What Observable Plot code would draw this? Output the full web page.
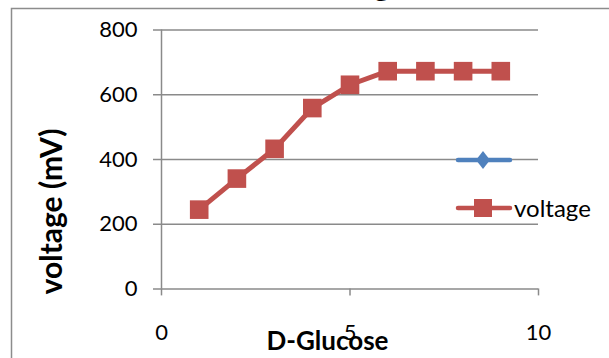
<!DOCTYPE html>
<html>
<head>
<meta charset="utf-8">
<script src="https://cdn.jsdelivr.net/npm/d3@7"></script>
<script src="https://cdn.jsdelivr.net/npm/@observablehq/plot@0.6"></script>
<style>
  html, body { margin: 0; padding: 0; background: #fff; }
  #wrap { position: relative; width: 609px; height: 358px; overflow: hidden; font-family: Lato, "Open Sans", sans-serif; }
  #overlay { position: absolute; left: 0; top: 0; pointer-events: none; }
</style>
</head>
<body>
<div id="wrap"></div>
<script>
// Data
const glucose = [1, 2, 3, 4, 5, 6, 7, 8, 9];
const voltage = [245, 341, 433, 559, 631, 673, 673, 673, 673];
const xTicks = [0, 5, 10];
const yTicks = [0, 200, 400, 600, 800];
const seriesName = "voltage";
const chartTitle = "voltage";
const xTitle = "D-Glucose";
const yTitle = "voltage (mV)";

const rows = glucose.map((g, i) => ({glucose: g, voltage: voltage[i]}));

const red = "#C0504D";
const blue = "#4F81BD";
const grid = "#8a8a8a";
const font = "Lato, 'Open Sans', sans-serif";

const chart = Plot.plot({
  width: 609,
  height: 358,
  marginLeft: 161,
  marginRight: 71,
  marginTop: 29.6,
  marginBottom: 69.6,
  style: {fontFamily: font, background: "transparent", overflow: "visible"},
  x: {domain: [0, 10]},
  y: {domain: [0, 800]},
  marks: [
    Plot.ruleY(yTicks, {x1: 0, x2: 10, insetLeft: -8, stroke: grid, strokeWidth: 1.5}),
    Plot.ruleX([0], {y1: 0, y2: 800, stroke: grid, strokeWidth: 1.5}),
    Plot.axisY({ticks: yTicks, tickSize: 0, tickPadding: 24, fontSize: 22, label: null, fill: "#000"}),
    Plot.axisX({ticks: xTicks, tickSize: 7, tickPadding: 28, fontSize: 22, label: null, stroke: grid, strokeWidth: 1.5, fill: "#000"}),
    Plot.line(rows, {x: "glucose", y: "voltage", stroke: red, strokeWidth: 5}),
    Plot.dot(rows, {x: "glucose", y: "voltage", symbol: "square", r: 10.5, fill: red, stroke: null}),
    Plot.text([yTitle], {frameAnchor: "left", textAnchor: "middle", lineAnchor: "middle", dx: -109, dy: 52, rotate: -90, fontSize: 30, fontWeight: "bold", fill: "#000"}),
    Plot.text([xTitle], {frameAnchor: "bottom", textAnchor: "middle", lineAnchor: "middle", dx: -22.5, dy: 53, fontSize: 26, fontWeight: "bold", fill: "#000"})
  ]
});
document.getElementById("wrap").appendChild(chart);

// Overlay: chart-area border, cut-off title, legend
const ov = d3.select("#wrap").append("svg")
  .attr("id", "overlay").attr("width", 609).attr("height", 358)
  .style("font-family", font);

ov.append("path").attr("d", "M11.5,358 V8.5 H609").attr("fill", "none").attr("stroke", "#8c8c8c").attr("stroke-width", 1.5);
ov.append("text").attr("x", 356).attr("y", -4).attr("text-anchor", "middle")
  .attr("font-size", 30).attr("font-weight", "bold").text(chartTitle);

// legend entry 1 (unnamed blue series)
ov.append("line").attr("x1", 458).attr("x2", 510).attr("y1", 160).attr("y2", 160)
  .attr("stroke", blue).attr("stroke-width", 4.5).attr("stroke-linecap", "round");
ov.append("path").attr("d", "M483,151 L490,160 L483,169 L476,160 Z").attr("fill", blue);
// legend entry 2
ov.append("line").attr("x1", 458).attr("x2", 510).attr("y1", 208).attr("y2", 208)
  .attr("stroke", red).attr("stroke-width", 4.5).attr("stroke-linecap", "round");
ov.append("rect").attr("x", 474).attr("y", 199).attr("width", 18).attr("height", 18).attr("fill", red);
ov.append("text").attr("x", 514).attr("y", 209).attr("dy", "0.35em").attr("font-size", 24).text(seriesName);
</script>
</body>
</html>
